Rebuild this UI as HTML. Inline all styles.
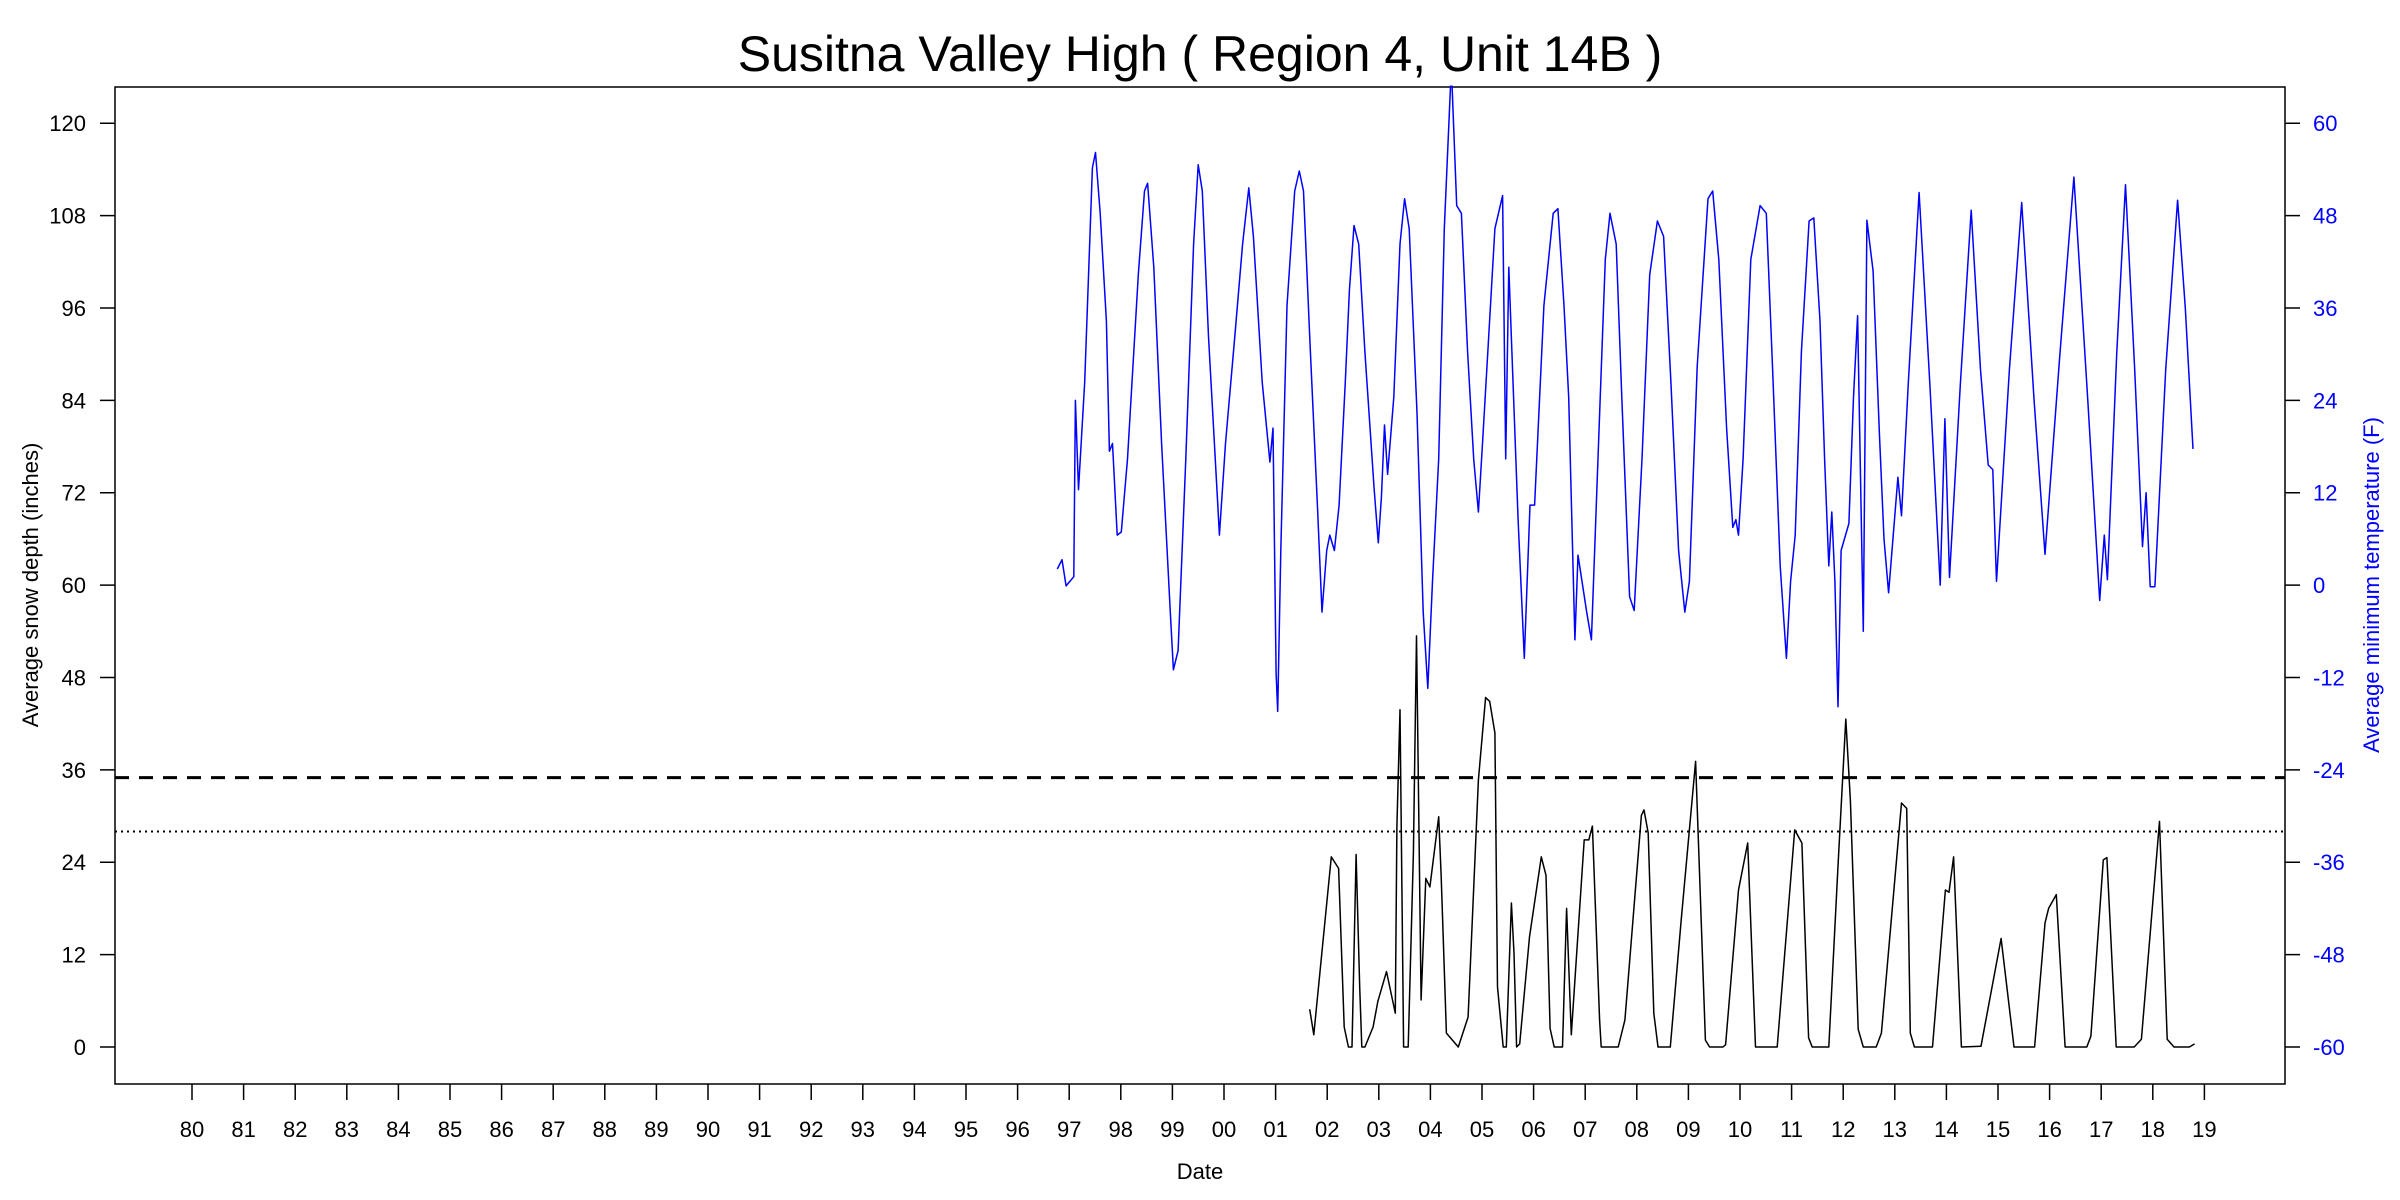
<!DOCTYPE html>
<html><head><meta charset="utf-8"><style>
html,body{margin:0;padding:0;background:#fff;}
svg{display:block;font-family:"Liberation Sans",Arial,sans-serif;}
</style></head><body>
<svg id="chart" width="2400" height="1200" viewBox="0 0 2400 1200" xmlns="http://www.w3.org/2000/svg">
<rect x="0" y="0" width="2400" height="1200" fill="#fff"/>
<text x="1200" y="71" font-size="50" text-anchor="middle" fill="#000">Susitna Valley High ( Region 4, Unit 14B )</text>
<rect x="115" y="87" width="2170" height="997" fill="none" stroke="#000" stroke-width="1.5"/>
<g id="leftAxis"></g>
<g id="rightAxis"></g>
<g id="xAxis"></g>
<g id="refLines"></g>
<g id="series"></g>
<text x="1200" y="1179" font-size="22" text-anchor="middle" fill="#000">Date</text>
<text transform="translate(38,585) rotate(-90)" font-size="22" text-anchor="middle" fill="#000">Average snow depth (inches)</text>
<text transform="translate(2379,585) rotate(-90)" font-size="22" text-anchor="middle" fill="#0000ff">Average minimum temperature (F)</text>
</svg>
<script>
const yearLabels = ["80","81","82","83","84","85","86","87","88","89","90","91","92","93","94","95","96","97","98","99","00","01","02","03","04","05","06","07","08","09","10","11","12","13","14","15","16","17","18","19"];
const leftTicks = [0,12,24,36,48,60,72,84,96,108,120];
const rightTicks = [-60,-48,-36,-24,-12,0,12,24,36,48,60];
const snowThresholdDashed = 35;
const snowThresholdDotted = 28;

const tempDates = [1996.77,1996.86,1996.94,1997.09,1997.12,1997.18,1997.30,1997.45,1997.51,1997.60,1997.72,1997.78,1997.84,1997.93,1998.01,1998.13,1998.34,1998.46,1998.52,1998.64,1998.79,1998.96,1999.02,1999.11,1999.26,1999.41,1999.50,1999.58,1999.70,1999.88,1999.91,2000.03,2000.21,2000.36,2000.48,2000.57,2000.74,2000.89,2000.95,2001.01,2001.04,2001.10,2001.22,2001.37,2001.46,2001.54,2001.66,2001.81,2001.90,2001.99,2002.05,2002.14,2002.23,2002.35,2002.43,2002.52,2002.61,2002.73,2002.91,2002.99,2003.05,2003.11,2003.17,2003.29,2003.41,2003.50,2003.59,2003.74,2003.86,2003.95,2004.04,2004.16,2004.27,2004.39,2004.42,2004.51,2004.60,2004.72,2004.84,2004.93,2005.01,2005.13,2005.25,2005.40,2005.46,2005.52,2005.58,2005.70,2005.82,2005.93,2006.02,2006.20,2006.38,2006.47,2006.59,2006.68,2006.80,2006.86,2007.03,2007.12,2007.27,2007.39,2007.48,2007.60,2007.71,2007.86,2007.95,2008.10,2008.25,2008.40,2008.52,2008.66,2008.81,2008.93,2009.02,2009.17,2009.38,2009.47,2009.59,2009.74,2009.86,2009.92,2009.97,2010.06,2010.21,2010.39,2010.51,2010.63,2010.78,2010.90,2010.98,2011.07,2011.19,2011.34,2011.43,2011.55,2011.64,2011.72,2011.78,2011.84,2011.90,2011.96,2012.11,2012.20,2012.28,2012.39,2012.46,2012.58,2012.70,2012.79,2012.88,2013.06,2013.13,2013.26,2013.47,2013.68,2013.88,2013.97,2014.06,2014.27,2014.48,2014.66,2014.81,2014.90,2014.97,2015.22,2015.46,2015.70,2015.91,2016.20,2016.47,2016.74,2016.97,2017.06,2017.12,2017.30,2017.47,2017.65,2017.80,2017.87,2017.95,2018.04,2018.25,2018.48,2018.63,2018.78];
const tempValues = [2.1,3.3,-0.1,1.1,24,12.4,26.4,54.2,56.2,48.3,34.3,17.4,18.4,6.5,6.9,16.4,40.3,51.2,52.2,41.3,18.4,-3.5,-11,-8.5,16.4,44.3,54.6,51.2,32.3,10.4,6.5,18.4,32.3,44.3,51.6,45.3,26.4,16,20.4,-11.4,-16.4,4.5,36.3,51.2,53.8,51.2,32.3,10.4,-3.5,4.5,6.5,4.5,10.4,26.4,38.3,46.7,44.3,30.3,12.4,5.5,11.4,20.8,14.4,24.4,44.3,50.2,46.3,22.4,-3.5,-13.4,0.5,16.4,46.3,64.8,64.8,49.3,48.3,30.3,16.4,9.5,18.4,32.3,46.3,50.6,16.4,41.3,30.3,8.5,-9.5,10.4,10.4,36.3,48.3,48.9,36.3,24.4,-7.1,3.9,-3.5,-7.1,20.4,42.3,48.3,44.3,24.4,-1.5,-3.3,16.4,40.3,47.3,45.3,26.4,4.5,-3.5,0.5,28.4,50.2,51.2,42.3,20.4,7.5,8.5,6.5,16.4,42.3,49.3,48.3,28.4,2.5,-9.5,0.5,6.5,30.3,47.3,47.7,34.3,16.4,2.5,9.5,0.5,-15.8,4.5,8,24.4,35,-6,47.4,40.8,20,6,-1,14,9,26,51,26,0,21.6,1,26,48.7,28,15.6,15,0.5,28,49.7,24,4,30,53,24,-2,6.5,0.7,30,52,28,5,12,-0.2,-0.2,28,50,36,17.7];

const snowDates = [2001.66,2001.74,2002.08,2002.22,2002.33,2002.41,2002.48,2002.56,2002.63,2002.67,2002.73,2002.89,2002.98,2003.15,2003.32,2003.35,2003.41,2003.48,2003.57,2003.67,2003.73,2003.76,2003.82,2003.91,2003.99,2004.16,2004.21,2004.31,2004.54,2004.73,2004.93,2005.07,2005.15,2005.25,2005.30,2005.41,2005.47,2005.57,2005.62,2005.67,2005.73,2005.92,2006.15,2006.24,2006.32,2006.40,2006.56,2006.64,2006.73,2006.98,2007.07,2007.14,2007.28,2007.31,2007.64,2007.77,2008.09,2008.14,2008.22,2008.33,2008.41,2008.65,2008.86,2009.14,2009.33,2009.41,2009.67,2009.72,2009.97,2010.15,2010.30,2010.72,2011.06,2011.20,2011.33,2011.40,2011.72,2011.90,2012.05,2012.14,2012.29,2012.39,2012.64,2012.74,2013.13,2013.23,2013.30,2013.38,2013.73,2013.98,2014.05,2014.14,2014.29,2014.67,2015.06,2015.31,2015.71,2015.91,2015.98,2016.13,2016.30,2016.72,2016.80,2017.04,2017.11,2017.29,2017.64,2017.78,2018.13,2018.28,2018.41,2018.71,2018.81];
const snowValues = [4.9,1.6,24.7,23.2,2.6,0,0,25,7.8,0,0,2.6,5.9,9.8,4.4,28.6,43.8,0,0,25.2,53.4,38.2,6.1,21.9,20.8,29.9,22.1,1.8,0,3.9,34.7,45.4,44.9,40.8,7.8,0,0,18.7,12.2,0,0.4,14.3,24.7,22.3,2.4,0,0,18,1.6,26.9,26.9,28.7,3.5,0,0,3.5,30.1,30.8,27.8,4.4,0,0,16.5,37.1,0.9,0,0,0.3,20.4,26.5,0,0,28.2,26.5,1.2,0,0,23.5,42.6,32,2.3,0,0,1.8,31.7,31,1.8,0,0,20.4,20.1,24.7,0,0.1,14.1,0,0,16.1,18,19.8,0,0,1.4,24.3,24.6,0,0,1,29.3,1,0,0,0.4];

const NS = "http://www.w3.org/2000/svg";
const PLOT = {left:115,right:2285,top:87,bottom:1084};
function xScale(yr){ return 192 + (yr - 1980) * 51.6; }
function yLeft(v){ return 1047 - v * 7.698; }
function yRight(t){ return yLeft(t + 60); }
function mk(tag, attrs, parent){
  const e = document.createElementNS(NS, tag);
  for (const k in attrs) e.setAttribute(k, attrs[k]);
  parent.appendChild(e);
  return e;
}
const leftG = document.getElementById('leftAxis');
leftTicks.forEach(v => {
  const y = yLeft(v);
  const t = mk('line', {x1:100, x2:115, y1:y, y2:y, stroke:'#000', 'stroke-width':1.5}, leftG);
  
  
  const l = mk('text', {x:86, y:y+8, 'font-size':22, 'text-anchor':'end', fill:'#000'}, leftG);
  
  
  l.textContent = v;
});
const rightG = document.getElementById('rightAxis');
rightTicks.forEach(v => {
  const y = yRight(v);
  const t = mk('line', {x1:2285, x2:2300, y1:y, y2:y, stroke:'#000', 'stroke-width':1.5}, rightG);
  
  
  const l = mk('text', {x:2313, y:y+8, 'font-size':22, 'text-anchor':'start', fill:'#0000ff'}, rightG);
  
  
  l.textContent = v;
});
const xG = document.getElementById('xAxis');
yearLabels.forEach((lab, i) => {
  const x = xScale(1980 + i);
  const t = mk('line', {x1:x, x2:x, y1:1084, y2:1100, stroke:'#000', 'stroke-width':1.5}, xG);
  
  
  const l = mk('text', {x:x, y:1137, 'font-size':22, 'text-anchor':'middle', fill:'#000'}, xG);
  
  
  l.textContent = lab;
});
const refG = document.getElementById('refLines');
const dl = mk('line', {x1:PLOT.left, x2:PLOT.right, y1:yLeft(snowThresholdDashed), y2:yLeft(snowThresholdDashed), stroke:'#000', 'stroke-width':3, 'stroke-dasharray':'14 10'}, refG);


const dt = mk('line', {x1:PLOT.left, x2:PLOT.right, y1:yLeft(snowThresholdDotted), y2:yLeft(snowThresholdDotted), stroke:'#000', 'stroke-width':2, 'stroke-dasharray':'2 4'}, refG);



const sG = document.getElementById('series');
const tp = mk('polyline', {points: tempDates.map((d,i)=> xScale(d).toFixed(1)+','+yRight(tempValues[i]).toFixed(1)).join(' '), fill:'none', stroke:'#0000ff', 'stroke-width':1.5, 'stroke-linejoin':'round'}, sG);


const sp = mk('polyline', {points: snowDates.map((d,i)=> xScale(d).toFixed(1)+','+yLeft(snowValues[i]).toFixed(1)).join(' '), fill:'none', stroke:'#000', 'stroke-width':1.5, 'stroke-linejoin':'round'}, sG);


</script>
</body></html>
